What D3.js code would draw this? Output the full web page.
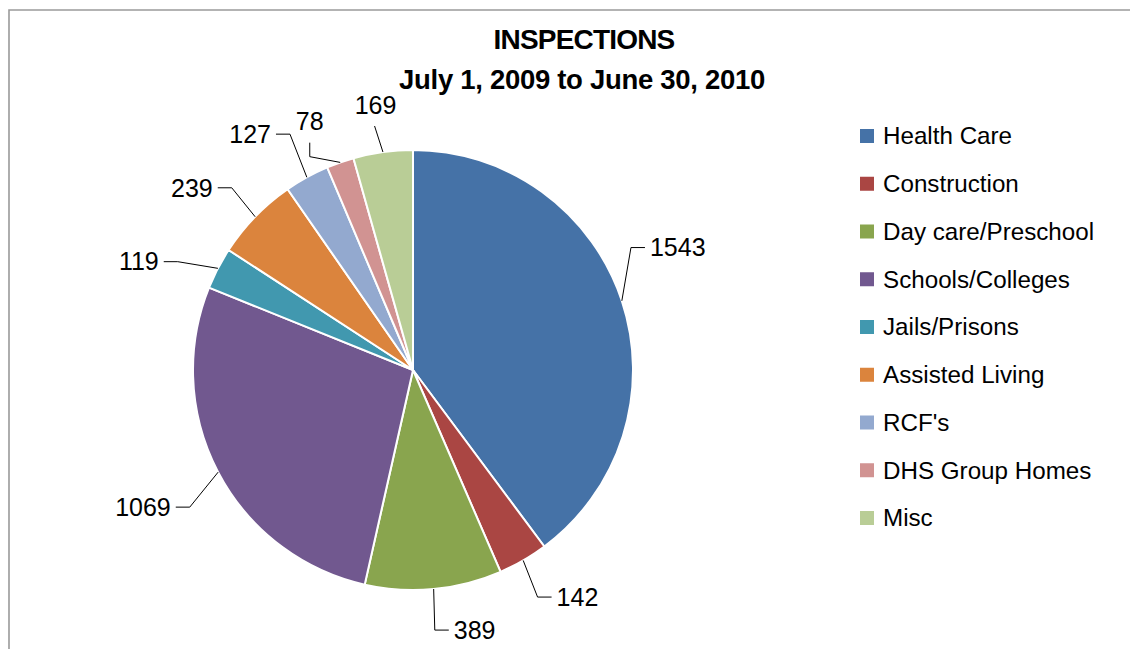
<!DOCTYPE html>
<html>
<head>
<meta charset="utf-8">
<script src="https://cdn.jsdelivr.net/npm/d3@7/dist/d3.min.js"></script>
<style>
  html, body { margin: 0; padding: 0; background: #fff; }
  svg { display: block; font-family: "Liberation Sans", Arial, sans-serif; }
</style>
</head>
<body>
<svg id="chart" width="1130" height="649"></svg>
<script>
// ---- data ----
const categories = ["Health Care", "Construction", "Day care/Preschool", "Schools/Colleges",
  "Jails/Prisons", "Assisted Living", "RCF's", "DHS Group Homes", "Misc"];
const values = [1543, 142, 389, 1069, 119, 239, 127, 78, 169];
const colors = ["#4572A7", "#AA4643", "#89A54E", "#71588F", "#4198AF", "#DB843D", "#93A9CF", "#D19392", "#B9CD96"];
const titleLines = ["INSPECTIONS", "July 1, 2009 to June 30, 2010"];

// ---- label layout (angle offset in degrees from slice mid-angle, elbow radius, style) ----
const labelAngleOffset = [-11, 1.3, 0.6, -3.9, -2.8, 1, 1.3, -6.5, -1.1];
const labelRadius = [250, 259, 261, 262, 259, 257, 266, 237, 247];
const labelStyle = ["side", "side", "side", "side", "side", "side", "side", "top", "topdirect"];

const svg = d3.select("#chart");
const W = 1130, H = 649;
const cx = 413, cy = 370, R = 220;

// frame (left + top border)
svg.append("path")
  .attr("d", `M9,${H} L9,10 L${W},10`)
  .attr("fill", "none").attr("stroke", "#9a9a9a").attr("stroke-width", 1.6);

// title
svg.append("text").attr("x", 584).attr("y", 49).attr("text-anchor", "middle")
  .attr("font-size", 28).attr("font-weight", "bold").attr("letter-spacing", -0.8)
  .attr("fill", "#000").text(titleLines[0]);
svg.append("text").attr("x", 582).attr("y", 89).attr("text-anchor", "middle")
  .attr("font-size", 27.5).attr("font-weight", "bold").attr("letter-spacing", -0.3)
  .attr("fill", "#000").text(titleLines[1]);

const data = categories.map((c, i) => ({ cat: c, value: values[i], color: colors[i], i }));
const pie = d3.pie().value(d => d.value).sort(null);
const arcs = pie(data);
const arc = d3.arc().innerRadius(0).outerRadius(R);

const g = svg.append("g").attr("transform", `translate(${cx},${cy})`);
g.selectAll("path.slice").data(arcs).join("path")
  .attr("class", "slice")
  .attr("d", arc)
  .attr("fill", d => d.data.color)
  .attr("stroke", "#fff").attr("stroke-width", 2).attr("stroke-linejoin", "round");

// labels with leader lines
const polar = (angDeg, r) => {
  const a = angDeg * Math.PI / 180;
  return [r * Math.sin(a), -r * Math.cos(a)];
};
const lg = g.append("g");
arcs.forEach((d, i) => {
  const mid = (d.startAngle + d.endAngle) / 2 * 180 / Math.PI;
  const edge = polar(mid, R);
  const elbowAng = mid + labelAngleOffset[i];
  const elbow = polar(elbowAng, labelRadius[i]);
  const style = labelStyle[i];
  let pts, tx, ty, anchor;
  if (style === "side") {
    const right = ((elbowAng % 360) + 360) % 360 < 180;
    const dir = right ? 1 : -1;
    const end = [elbow[0] + dir * 14, elbow[1]];
    pts = [edge, elbow, end];
    tx = end[0] + dir * 5; ty = elbow[1]; anchor = right ? "start" : "end";
  } else if (style === "top") {
    const end = [elbow[0], elbow[1] - 14];
    pts = [edge, elbow, end];
    tx = end[0]; ty = end[1] - 21; anchor = "middle";
  } else {
    pts = [edge, elbow];
    tx = elbow[0] + 1; ty = elbow[1] - 21; anchor = "middle";
  }
  lg.append("path").attr("d", d3.line()(pts))
    .attr("fill", "none").attr("stroke", "#000").attr("stroke-width", 1);
  lg.append("text").attr("x", tx).attr("y", ty).attr("dy", "0.35em")
    .attr("text-anchor", anchor).attr("font-size", 25).attr("fill", "#000")
    .text(values[i]);
});

// legend
const legend = svg.append("g");
const ly0 = 136, lstep = 47.75;
categories.forEach((c, i) => {
  const y = ly0 + i * lstep;
  legend.append("rect").attr("x", 860).attr("y", y - 7).attr("width", 14).attr("height", 14)
    .attr("fill", colors[i]);
  legend.append("text").attr("x", 883).attr("y", y).attr("dy", "0.35em")
    .attr("font-size", 24.2).attr("fill", "#000").text(c);
});
</script>
</body>
</html>
